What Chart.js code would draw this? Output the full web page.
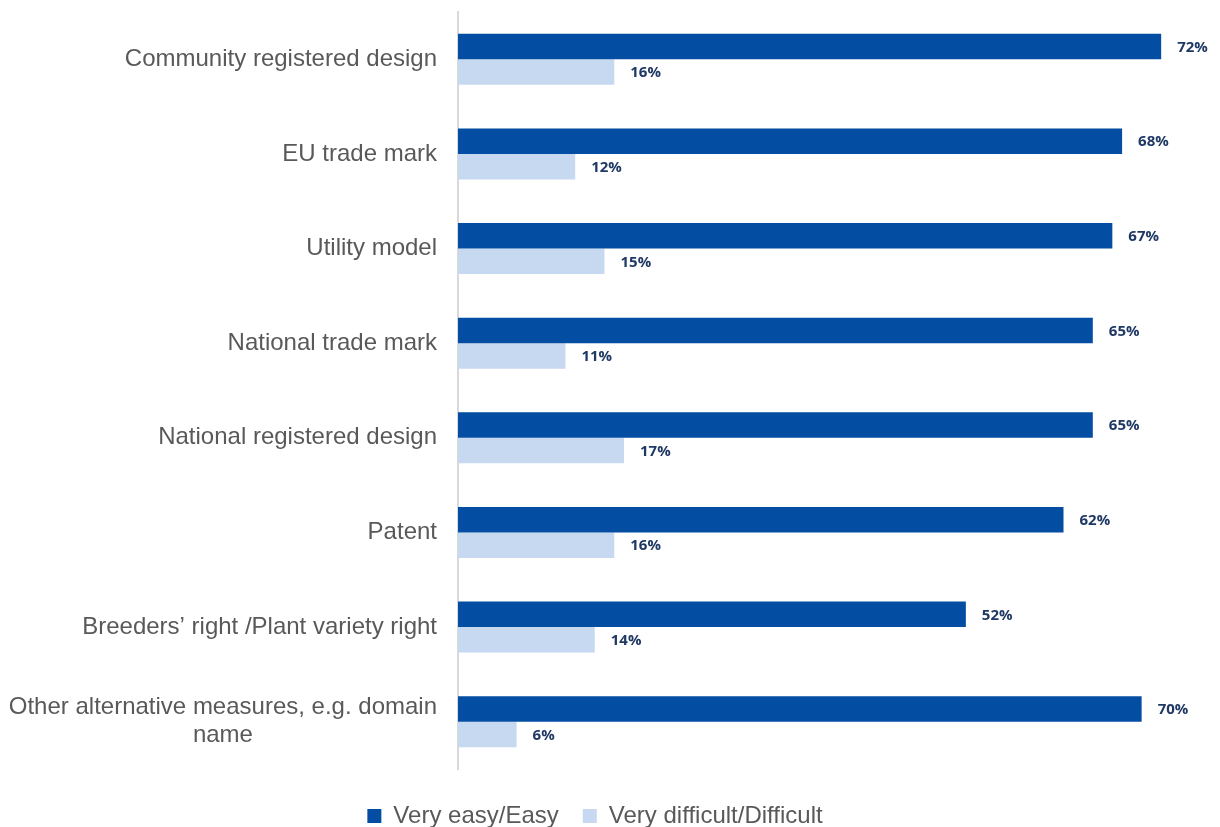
<!DOCTYPE html>
<html>
<head>
<meta charset="utf-8">
<script src="https://cdn.jsdelivr.net/npm/chart.js@4.4.1/dist/chart.umd.min.js"></script>
<style>
html,body{margin:0;padding:0;background:#fff;}
#wrap{width:1220px;height:827px;position:relative;}
</style>
</head>
<body>
<div id="wrap"><canvas id="c" width="1220" height="827"></canvas></div>
<script>
const categories = [
  "Community registered design",
  "EU trade mark",
  "Utility model",
  "National trade mark",
  "National registered design",
  "Patent",
  "Breeders\u2019 right /Plant variety right",
  ["Other alternative measures, e.g. domain", "name"]
];
const easyValues = [72, 68, 67, 65, 65, 62, 52, 70];
const difficultValues = [16, 12, 15, 11, 17, 16, 14, 6];
const seriesNames = ["Very easy/Easy", "Very difficult/Difficult"];

const catLabelPlugin = {
  id: 'catLabels',
  afterDraw(chart) {
    const ctx = chart.ctx;
    const y = chart.scales.y;
    const right = chart.chartArea.left - 21;
    ctx.save();
    ctx.font = '24px "Liberation Sans", Arial, sans-serif';
    ctx.fillStyle = '#595959';
    ctx.textBaseline = 'middle';
    ctx.textAlign = 'center';
    const lh = 28;
    categories.forEach((lab, i) => {
      const lines = Array.isArray(lab) ? lab : [lab];
      const maxW = Math.max(...lines.map(l => ctx.measureText(l).width));
      const cx = right - maxW / 2;
      const cy = y.getPixelForTick(i);
      const y0 = cy - (lines.length - 1) * lh / 2;
      lines.forEach((l, k) => ctx.fillText(l, cx, y0 + k * lh));
    });
    ctx.restore();
  }
};

const valueLabelPlugin = {
  id: 'valueLabels',
  afterDatasetsDraw(chart) {
    const ctx = chart.ctx;
    ctx.save();
    ctx.font = 'bold 15px "Open Sans", sans-serif';
    ctx.fillStyle = '#1F3864';
    ctx.textBaseline = 'middle';
    ctx.textAlign = 'left';
    chart.data.datasets.forEach((ds, di) => {
      const meta = chart.getDatasetMeta(di);
      meta.data.forEach((bar, i) => {
        ctx.fillText(ds.data[i] + '%', bar.x + 16, bar.y + 1);
      });
    });
    ctx.restore();
  }
};

const legendShift = {
  id: 'legendShift',
  afterLayout(chart) {
    const lg = chart.legend;
    if (!lg) return;
    lg.top += 11; lg.bottom += 11;
    lg.left -= 10; lg.right -= 10;
  }
};

new Chart(document.getElementById('c'), {
  type: 'bar',
  data: {
    labels: categories,
    datasets: [
      { label: seriesNames[0], data: easyValues, backgroundColor: '#034EA2',
        categoryPercentage: 0.54, barPercentage: 1.0 },
      { label: seriesNames[1], data: difficultValues, backgroundColor: '#C6D9F0',
        categoryPercentage: 0.54, barPercentage: 1.0 }
    ]
  },
  options: {
    indexAxis: 'y',
    responsive: false,
    animation: false,
    layout: { padding: { top: 12, right: 10, left: 0, bottom: 0 } },
    scales: {
      x: { display: false, min: 0, max: 77 },
      y: {
        grid: { display: false, drawTicks: false },
        border: { display: true, color: '#D9D9D9', width: 2 },
        ticks: { display: false },
        afterFit(scale) { scale.width = 458; }
      }
    },
    plugins: {
      legend: {
        position: 'bottom',
        labels: {
          boxWidth: 14, boxHeight: 14, padding: 24,
          color: '#595959',
          font: { size: 24, family: '"Liberation Sans", Arial, sans-serif' }
        }
      },
      tooltip: { enabled: false }
    }
  },
  plugins: [catLabelPlugin, valueLabelPlugin, legendShift]
});
</script>
</body>
</html>
